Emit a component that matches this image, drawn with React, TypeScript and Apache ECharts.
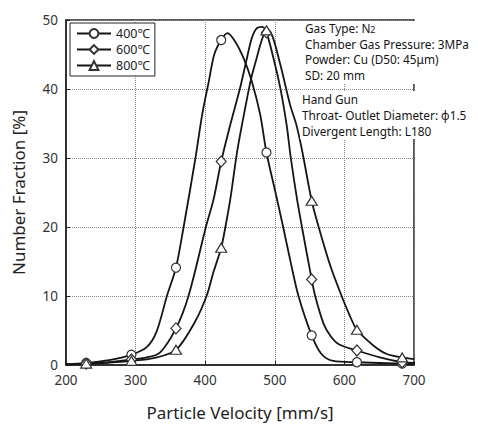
import React, { useEffect, useRef } from "react";
import * as echarts from "echarts";

// Velocities at which the measured points (markers) sit, mm/s
const markerVelocity = [229, 294, 358, 423, 488, 553, 618, 683];

// Number fraction [%] at the marker velocities for each gas temperature
const marker400 = [0.3, 1.5, 14.1, 47.1, 30.8, 4.3, 0.4, 0.2];
const marker600 = [0.2, 0.8, 5.3, 29.5, 48.2, 12.4, 2.1, 0.4];
const marker800 = [0.2, 0.6, 2.2, 17.0, 48.5, 23.8, 5.1, 1.1];

// Distribution curve traces between the markers: [velocity, fraction]
const trace400: [number, number][] = [
  [200, 0.1], [262, 0.7], [316, 2.6], [330, 4.8], [345, 10], [369, 20],
  [386, 30], [396, 36.5], [405, 41], [413, 45], [432, 48.1], [443, 46.9],
  [455, 44.5], [467, 41.1], [479, 36.3], [501, 25], [512, 20], [523, 14.8],
  [534, 10], [567, 1.6], [584, 0.6], [700, 0.15],
];
const trace600: [number, number][] = [
  [200, 0.1], [262, 0.4], [316, 1.1], [335, 1.8], [376, 10], [401, 20],
  [412, 24], [436, 34.8], [450, 40.1], [460, 44.5], [467, 47.4], [474, 48.8],
  [482, 49.0], [498, 44.5], [508, 40.1], [517, 34.8], [523, 30], [532, 24],
  [539, 20], [558, 10], [570, 6.0], [580, 4.2], [592, 3.0], [651, 1.1],
  [700, 0.3],
];
const trace800: [number, number][] = [
  [200, 0.05], [262, 0.35], [326, 1.0], [385, 6.2], [402, 10], [412, 13.5],
  [429, 20], [436, 24], [446, 31], [457, 37], [466, 41.5], [474, 44.5],
  [481, 47], [496, 47.8], [508, 43.5], [522, 37.7], [531, 34.8], [539, 31.2],
  [563, 20], [580, 14.3], [596, 10], [608, 7.1], [642, 2.8], [661, 1.6],
  [700, 0.85],
];

const seriesNames = ["400℃", "600℃", "800℃"];

const conditionsTop = [
  "Gas Type: N{sub|2}",
  "Chamber Gas Pressure: 3MPa",
  "Powder: Cu (D50: 45μm)",
  "SD: 20 mm",
];
const conditionsBottom = [
  "Hand Gun",
  "Throat- Outlet Diameter: ϕ1.5",
  "Divergent Length: L180",
];

const FONT = '"Noto Sans", "DejaVu Sans", sans-serif';
const INK = "#151515";

function buildData(trace: [number, number][], markers: number[]) {
  const pts: any[] = [
    ...trace.map(([x, y]) => ({ value: [x, y], symbol: "none" })),
    ...markerVelocity.map((x, i) => ({ value: [x, markers[i]] })),
  ];
  pts.sort((a, b) => a.value[0] - b.value[0]);
  return pts;
}

function lineSeries(name: string, symbol: string, symbolSize: any, data: any[]) {
  return {
    name,
    type: "line",
    data,
    smooth: 0.3,
    symbol,
    symbolSize,
    showAllSymbol: true,
    lineStyle: { color: INK, width: 1.8 },
    itemStyle: { color: "#ffffff", borderColor: "#333", borderWidth: 1.2 },
    emphasis: { disabled: true },
  };
}

function textBlock(lines: string[], x: number, y0: number, step: number) {
  return lines.map((t, i) => ({
    type: "text",
    x,
    y: y0 + i * step,
    z: 101,
    style: {
      text: t,
      fill: INK,
      fontSize: 11.8,
      fontFamily: FONT,
      verticalAlign: "middle",
      rich: {
        sub: { fontSize: 9, fontFamily: FONT, fill: INK, padding: [3, 0, 0, 0] },
      },
    },
  }));
}

export default function App() {
  const ref = useRef<HTMLDivElement>(null);

  useEffect(() => {
    document.body.style.margin = "0";
    if (!ref.current) return;
    const chart = echarts.init(ref.current, undefined, { renderer: "svg" });
    chart.setOption({
      animation: false,
      backgroundColor: "#ffffff",
      textStyle: { fontFamily: FONT },
      grid: {
        left: 66,
        top: 20,
        right: 64,
        bottom: 60,
        show: true,
        borderColor: "#222",
        borderWidth: 1.5,
        backgroundColor: "transparent",
      },
      legend: {
        data: seriesNames,
        orient: "vertical",
        left: 70,
        top: 23,
        itemWidth: 34,
        itemHeight: 11,
        itemGap: 3,
        padding: [4, 5, 4, 6],
        borderColor: "#222",
        borderWidth: 1,
        backgroundColor: "#fff",
        textStyle: { fontSize: 12.5, color: "#222", fontFamily: FONT, lineHeight: 11 },
      },
      xAxis: {
        type: "value",
        min: 200,
        max: 700,
        interval: 100,
        name: "Particle Velocity [mm/s]",
        nameLocation: "middle",
        nameGap: 39,
        nameTextStyle: { fontSize: 17, color: "#222", fontFamily: FONT },
        axisLine: { show: true, lineStyle: { color: "#222", width: 1.5 } },
        axisTick: { show: true, inside: true, length: 4, lineStyle: { color: "#222" } },
        axisLabel: { fontSize: 13.5, color: "#333", margin: 8 },
        splitLine: { show: true, lineStyle: { type: "dotted", color: "#888", width: 1 } },
      },
      yAxis: {
        type: "value",
        min: 0,
        max: 50,
        interval: 10,
        name: "Number Fraction [%]",
        nameLocation: "middle",
        nameGap: 39,
        nameTextStyle: { fontSize: 17, color: "#222", fontFamily: FONT },
        axisLine: { show: true, lineStyle: { color: "#222", width: 1.5 } },
        axisTick: { show: true, inside: true, length: 4, lineStyle: { color: "#222" } },
        axisLabel: { fontSize: 13.5, color: "#333", margin: 8 },
        splitLine: { show: true, lineStyle: { type: "dotted", color: "#888", width: 1 } },
      },
      series: [
        lineSeries(seriesNames[0], "circle", 9, buildData(trace400, marker400)),
        lineSeries(seriesNames[1], "diamond", [10, 11], buildData(trace600, marker600)),
        lineSeries(seriesNames[2], "triangle", [11, 9], buildData(trace800, marker800)),
      ],
      graphic: [
        { type: "rect", z: 100, shape: { x: 300, y: 21, width: 178, height: 63 }, style: { fill: "#fff" } },
        { type: "rect", z: 100, shape: { x: 300, y: 91, width: 178, height: 48 }, style: { fill: "#fff" } },
        ...textBlock(conditionsTop, 305, 28, 15.6),
        ...textBlock(conditionsBottom, 302, 98.5, 16.3),
      ],
    });
    return () => chart.dispose();
  }, []);

  return <div ref={ref} style={{ width: 478, height: 426 }} />;
}
